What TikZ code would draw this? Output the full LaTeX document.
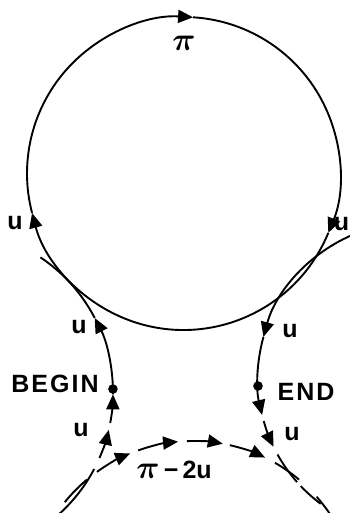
\documentclass[tikz,border=0pt]{standalone}
\usepackage{fontspec}
\setmainfont{Liberation Sans}
\usetikzlibrary{arrows.meta}
\newcommand\arcseg[5]{\draw[#5] ([shift={(#3:#2)}]#1) arc[start angle=#3,end angle=#4,radius=#2];}
\newcommand\bigpi{\scalebox{1.3}{$\pi$}}
\begin{document}
\begin{tikzpicture}[x=1pt,y=1pt,line width=1.9pt,
  tip/.style={-{Triangle[length=15pt,width=13pt]}},
  plain/.style={},
  lbl/.style={font=\fontsize{25}{25}\selectfont\bfseries\boldmath,inner sep=0pt},
  wide/.style={font=\fontsize{25}{25}\selectfont\bfseries\addfontfeature{LetterSpace=8},inner sep=0pt}]
\useasboundingbox (0,0) rectangle (350,513);
\clip (0,0) rectangle (350,513);
\coordinate (C0) at (183.5,339.5);
\coordinate (CL) at (-50,120);
\coordinate (CR) at (414.1,134.5);
\coordinate (CB) at (193,-93);
% main circle
\arcseg{C0}{156.5}{86.5}{-22.3}{tip}
\arcseg{C0}{156.5}{-22.3}{-165.4}{tip}
\arcseg{C0}{156.5}{-165.4}{-273.5}{tip}
% left side curve
\arcseg{CL}{163}{-50}{-27.8}{plain}
\arcseg{CL}{163}{-23.5}{-13.1}{tip}
\arcseg{CL}{163}{-10.6}{-0.46}{tip}
\arcseg{CL}{163}{-0.46}{27.4}{tip}
\arcseg{CL}{163}{27.4}{56.3}{plain}
\coordinate (beginpt) at ([shift={(1.4:163)}]CL);
\fill (beginpt) circle (4.8);
% right side curve
\arcseg{CR}{156.3}{112.2}{164.6}{tip}
\arcseg{CR}{156.3}{164.6}{193.5}{tip}
\arcseg{CR}{156.3}{195.8}{205.9}{tip}
\arcseg{CR}{156.3}{209.1}{221.5}{plain}
\arcseg{CR}{156.3}{223.5}{233.3}{plain}
\coordinate (endpt) at ([shift={(182.75:156.3)}]CR);
\fill (endpt) circle (4.8);
% bottom arc
\arcseg{CB}{165}{141}{130}{plain}
\arcseg{CB}{165}{125.6}{112.4}{tip}
\arcseg{CB}{165}{109.4}{95.2}{tip}
\arcseg{CB}{165}{92.1}{79.6}{tip}
\arcseg{CB}{165}{77.1}{64.1}{tip}
\arcseg{CB}{165}{60.2}{50}{plain}
\arcseg{CB}{165}{41.5}{34}{plain}
% labels
\node[lbl] (piTop) at (184,470) {\bigpi};
\node[lbl] (uTL) at (15,290) {u};
\node[lbl,anchor=east] (uTR) at (350,289) {u};
\node[lbl] (uL) at (79,186) {u};
\node[lbl] (uR) at (290,182) {u};
\node[wide] (begin) at (55,129) {BEGIN};
\node[wide] (end) at (306,121) {END};
\node[lbl] (uLL) at (81,83) {u};
\node[lbl] (uLR) at (292,79) {u};
\node[lbl] (pi2u) at (174,43) {\bigpi\,−\,2u};
\end{tikzpicture}
\end{document}
